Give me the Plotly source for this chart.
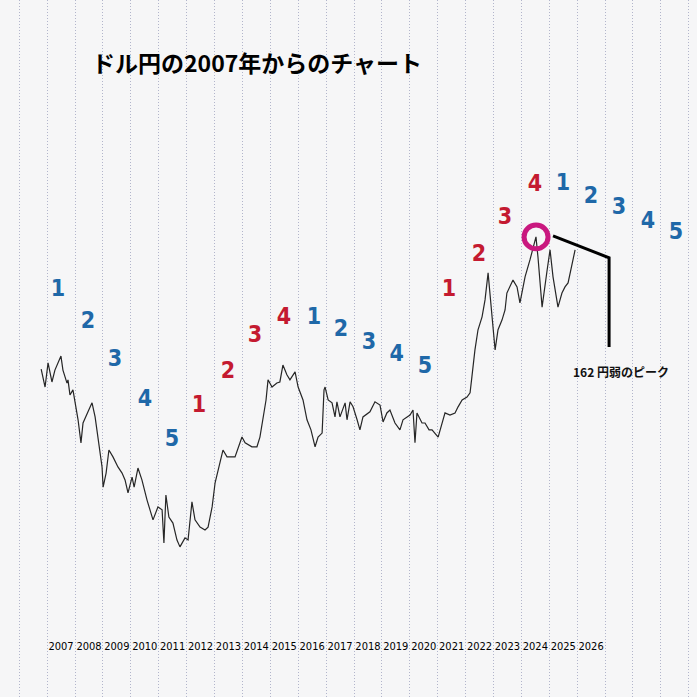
import plotly.graph_objects as go

# ---- data (date, USD/JPY) ----
dates = [
    "2006-10-15", "2006-12-05", "2007-01-13", "2007-03-05", "2007-04-13", "2007-07-01", "2007-07-27",
    "2007-09-18", "2007-10-01", "2007-10-27", "2007-12-05", "2008-01-27", "2008-02-10", "2008-03-19",
    "2008-04-15", "2008-06-19", "2008-08-11", "2008-09-20", "2008-10-28", "2008-12-20", "2009-01-03",
    "2009-02-11", "2009-03-20", "2009-05-12", "2009-07-16", "2009-09-08", "2009-10-17", "2009-11-25",
    "2010-01-17", "2010-02-13", "2010-04-04", "2010-05-26", "2010-08-01", "2010-10-18", "2010-12-22",
    "2011-02-14", "2011-03-10", "2011-04-05", "2011-05-14", "2011-07-06", "2011-08-28", "2011-10-06",
    "2011-12-11", "2012-01-20", "2012-03-11", "2012-04-20", "2012-06-25", "2012-08-29", "2012-10-08",
    "2012-11-30", "2013-01-08", "2013-02-17", "2013-04-21", "2013-06-13", "2013-07-22", "2013-09-26",
    "2013-12-26", "2014-02-05", "2014-05-05", "2014-07-10", "2014-08-18", "2014-09-27", "2014-11-06",
    "2014-12-02", "2015-01-23", "2015-03-28", "2015-05-06", "2015-06-15", "2015-08-06", "2015-09-15",
    "2015-11-21", "2015-12-31", "2016-03-04", "2016-04-25", "2016-06-16", "2016-08-09", "2016-09-17",
    "2016-11-09", "2016-12-04", "2016-12-18", "2017-01-27", "2017-03-19", "2017-04-27", "2017-05-22",
    "2017-07-01", "2017-09-06", "2017-10-01", "2017-11-10", "2017-12-19", "2018-02-10", "2018-03-19",
    "2018-04-28", "2018-07-28", "2018-10-02", "2018-12-07", "2019-01-16", "2019-03-07", "2019-04-16",
    "2019-06-21", "2019-08-25", "2019-10-04", "2020-01-04", "2020-02-12", "2020-03-09", "2020-04-04",
    "2020-06-09", "2020-07-18", "2020-09-09", "2020-10-18", "2021-01-06", "2021-02-27", "2021-04-06",
    "2021-06-10", "2021-08-15", "2021-09-24", "2021-11-16", "2022-01-19", "2022-02-28", "2022-03-24",
    "2022-05-03", "2022-06-12", "2022-08-04", "2022-09-12", "2022-10-22", "2022-12-13", "2023-01-22",
    "2023-03-01", "2023-04-22", "2023-06-01", "2023-06-25", "2023-09-13", "2023-11-05", "2023-12-13",
    "2024-02-18", "2024-04-22", "2024-07-10", "2024-08-05", "2024-09-28", "2024-12-03", "2025-01-10",
    "2025-02-18", "2025-04-24", "2025-06-15", "2025-07-25", "2025-09-03", "2025-10-25", "2025-12-04",
]
usdjpy = [
    125.2, 120.2, 126.9, 121.6, 124.9, 128.8, 124.9,
    121.3, 122.2, 118.0, 119.4, 113.0, 111.1, 104.7,
    110.2, 113.3, 115.8, 111.9, 105.5, 98.0, 92.4,
    96.3, 102.7, 100.8, 98.0, 96.3, 94.4, 90.8,
    95.2, 92.4, 97.7, 94.4, 88.8, 83.3, 86.9,
    86.1, 76.9, 90.2, 84.1, 82.4, 77.7, 75.8,
    78.3, 77.7, 88.3, 83.3, 81.3, 80.5, 81.3,
    86.9, 93.6, 97.2, 102.7, 100.8, 100.8, 100.8,
    106.3, 104.7, 103.6, 103.6, 106.3, 111.9, 116.6,
    122.2, 120.2, 121.3, 121.6, 126.3, 123.6, 122.2,
    124.4, 120.2, 116.6, 111.1, 108.3, 103.6, 106.3,
    107.4, 119.4, 120.2, 116.6, 115.8, 111.9, 116.1,
    111.9, 115.8, 111.1, 116.1, 114.7, 111.1, 108.3,
    111.9, 113.3, 116.1, 115.2, 110.5, 113.0, 113.8,
    110.2, 108.3, 111.1, 112.4, 113.8, 104.7, 113.0,
    110.2, 110.2, 108.3, 108.3, 106.3, 110.2, 113.0,
    112.4, 113.0, 114.7, 116.6, 117.4, 118.6, 123.0,
    130.5, 136.1, 139.7, 144.4, 151.9, 139.7, 130.5,
    136.1, 138.8, 141.6, 146.3, 149.9, 148.0, 143.6,
    150.8, 155.5, 161.9, 156.3, 142.4, 152.7, 158.3,
    150.8, 142.4, 146.3, 148.0, 149.1, 154.7, 158.3,
]

year_labels = [str(y) for y in range(2007, 2027)]

# wave count labels
wave_text = ["1", "2", "3", "4", "5",
             "1", "2", "3", "4",
             "1", "2", "3", "4", "5",
             "1", "2", "3", "4",
             "1", "2", "3", "4", "5"]
wave_kind = ["b"] * 5 + ["r"] * 4 + ["b"] * 5 + ["r"] * 4 + ["b"] * 5
wave_dates = ["2007-05-23", "2008-06-19", "2009-06-07", "2010-07-06", "2011-06-24",
              "2012-06-12", "2013-06-25", "2014-06-15", "2015-06-28",
              "2016-07-25", "2017-07-15", "2018-07-15", "2019-07-15", "2020-07-18",
              "2021-05-28", "2022-06-25", "2023-06-01", "2024-06-27",
              "2025-06-28", "2026-07-01", "2027-07-01", "2028-07-15", "2029-07-15"]
wave_level = [147.2, 138.3, 127.7, 116.6, 105.5,
              114.9, 124.4, 134.4, 139.4,
              139.4, 136.1, 132.4, 129.1, 125.8,
              147.2, 156.9, 167.2, 176.3,
              176.6, 173.0, 169.9, 166.1, 163.0]

peak_date = "2024-07-10"
peak_value = 161.9
callout_dates = ["2025-02-18", "2027-02-22", "2027-02-22"]
callout_levels = [162.2, 156.1, 131.3]

BLUE = "#1f68a8"
RED = "#c41a30"
MAGENTA = "#c9187f"
BG = "#f6f6f7"

fig = go.Figure()

fig.add_trace(go.Scatter(
    x=dates, y=usdjpy, mode="lines",
    line=dict(color="#262626", width=1.2),
    hoverinfo="skip", showlegend=False,
))

# callout line
fig.add_trace(go.Scatter(
    x=callout_dates, y=callout_levels, mode="lines",
    line=dict(color="#000000", width=3),
    hoverinfo="skip", showlegend=False,
))

# year labels
fig.add_trace(go.Scatter(
    x=[f"{y}-07-02" for y in year_labels], y=[48] * len(year_labels),
    mode="text", text=year_labels,
    textfont=dict(family="Liberation Sans Narrow, DejaVu Sans Condensed, sans-serif",
                  size=11, color="#000000"),
    hoverinfo="skip", showlegend=False,
))

# wave numbers
fig.add_trace(go.Scatter(
    x=wave_dates, y=wave_level, mode="text", text=[f"<b>{t}</b>" for t in wave_text],
    textfont=dict(family="Liberation Sans Narrow, DejaVu Sans Condensed, sans-serif", size=23,
                  color=[BLUE if k == "b" else RED for k in wave_kind]),
    hoverinfo="skip", showlegend=False,
))

# circle around the peak
fig.add_shape(type="circle", xref="x", yref="y",
              x0="2024-02-05", x1="2024-12-15", y0=peak_value - 3.3, y1=peak_value + 3.3,
              line=dict(color=MAGENTA, width=5))

fig.add_annotation(x="2027-07-27", y=124.4, xref="x", yref="y",
                   text="<b>162 円弱のピーク</b>", showarrow=False,
                   font=dict(family="Noto Sans CJK JP", size=12, color="#111111"))

fig.add_annotation(x=0.369, y=0.911, xref="paper", yref="paper",
                   xanchor="center", yanchor="middle",
                   text="<b>ドル円の2007年からのチャート</b>", showarrow=False,
                   font=dict(family="Noto Sans CJK JP", size=23, color="#000000"))

fig.update_xaxes(type="date", range=["2005-04-24", "2030-04-18"],
                 tick0="2006-01-01", dtick="M12",
                 showgrid=True, gridcolor="#b2b5cb", griddash="1px,2px", gridwidth=1,
                 showticklabels=False, zeroline=False, showline=False)
fig.update_yaxes(range=[34.1, 227.7], showgrid=False, showticklabels=False,
                 zeroline=False, showline=False)

fig.update_layout(width=697, height=697, margin=dict(l=0, r=0, t=0, b=0),
                  paper_bgcolor=BG, plot_bgcolor=BG)

fig.write_html(
    "out.html",
    config={"displayModeBar": False},
    post_script="document.body.style.margin='0';document.body.style.padding='0';"
                "document.body.style.background='" + BG + "';",
)
